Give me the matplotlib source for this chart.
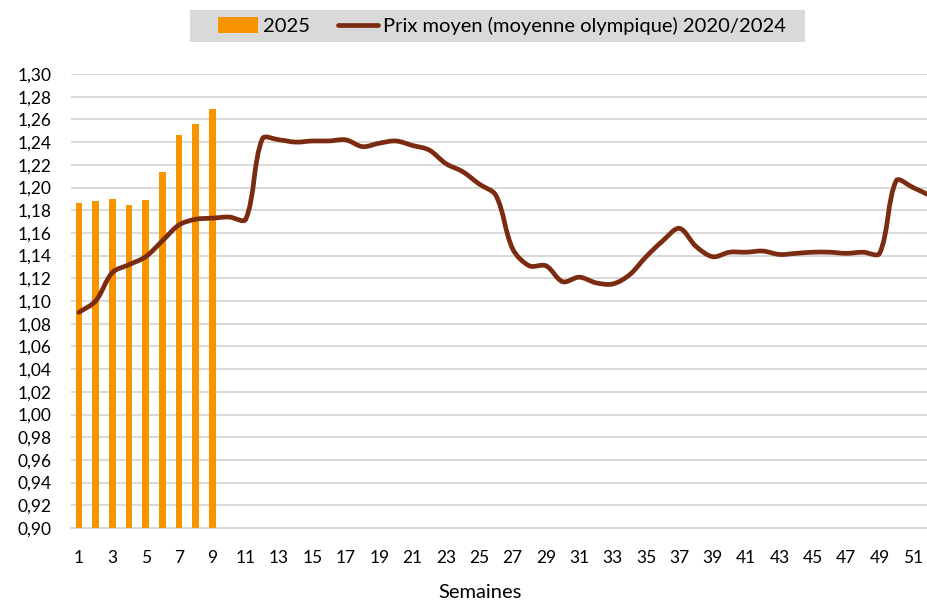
import matplotlib
matplotlib.use("Agg")
import matplotlib.pyplot as plt
import numpy as np
from matplotlib.path import Path
from matplotlib.patches import PathPatch, Patch, Rectangle
from matplotlib.lines import Line2D

weeks_2025 = [1, 2, 3, 4, 5, 6, 7, 8, 9]
prix_2025 = [1.186, 1.188, 1.190, 1.185, 1.189, 1.214, 1.246, 1.256, 1.269]

weeks = list(range(1, 53))
prix_moyen = [
    1.090, 1.100, 1.125, 1.132, 1.139, 1.153, 1.167, 1.172, 1.173, 1.174,
    1.172, 1.243, 1.242, 1.240, 1.241, 1.241, 1.242, 1.236, 1.239, 1.241,
    1.237, 1.233, 1.221, 1.214, 1.203, 1.193, 1.146, 1.131, 1.131, 1.117,
    1.121, 1.116, 1.115, 1.123, 1.139, 1.153, 1.164, 1.148, 1.139, 1.143,
    1.143, 1.144, 1.141, 1.142, 1.143, 1.143, 1.142, 1.143, 1.142, 1.206,
    1.200, 1.193,
]

y_ticks = [round(0.90 + 0.02 * i, 2) for i in range(21)]
x_ticks = list(range(1, 53, 2))

ORANGE = "#F79400"
BROWN = "#7B2B10"
GRID = "#D9D9D9"
FONT = ["Lato", "DejaVu Sans"]


def smooth_path(x, y, sx, sy, t=1.0 / 3.0):
    # Excel style smoothed line, tangents weighted by segment length on screen
    pts = np.column_stack([x, y]).astype(float)
    scr = pts * [sx, sy]
    n = len(pts)
    verts = [pts[0]]
    codes = [Path.MOVETO]
    for i in range(n - 1):
        i0, i3 = max(i - 1, 0), min(i + 2, n - 1)
        p0, p1, p2, p3 = pts[i0], pts[i], pts[i + 1], pts[i3]
        d01 = np.hypot(*(scr[i] - scr[i0]))
        d12 = np.hypot(*(scr[i + 1] - scr[i]))
        d23 = np.hypot(*(scr[i3] - scr[i + 1]))
        f1 = d12 / (d01 + d12) if d01 + d12 > 0 else 0
        f2 = d12 / (d12 + d23) if d12 + d23 > 0 else 0
        c1 = p1 + (p2 - p0) * t * f1
        c2 = p2 - (p3 - p1) * t * f2
        verts += [c1, c2, p2]
        codes += [Path.CURVE4] * 3
    return Path(verts, codes)


def main():
    plt.rcParams["font.family"] = FONT
    fig = plt.figure(figsize=(9.28, 6.01), dpi=100)
    ax_w, ax_h = 867.4, 454.0
    ax = fig.add_axes([70.6 / 928, 1 - 528 / 601, ax_w / 928, ax_h / 601])

    ax.bar(weeks_2025, prix_2025, width=0.39, color=ORANGE, zorder=2)
    sx = ax_w / 52.0
    sy = ax_h / 0.40
    ax.add_patch(PathPatch(smooth_path(weeks, prix_moyen, sx, sy),
                           facecolor="none", edgecolor=BROWN, lw=3.4,
                           capstyle="round", joinstyle="round", zorder=3))

    ax.set_xlim(0.5, 52.5)
    ax.set_ylim(0.90, 1.30)
    ax.set_yticks(y_ticks)
    ax.set_yticklabels([f"{v:.2f}".replace(".", ",") for v in y_ticks])
    ax.set_xticks(x_ticks)
    ax.set_xticklabels([str(w) for w in x_ticks])
    ax.tick_params(axis="both", length=0, labelsize=12.5, colors="#000000")
    ax.tick_params(axis="x", pad=16)
    ax.tick_params(axis="y", pad=14)
    ax.grid(axis="y", color=GRID, lw=1.4, zorder=0)
    ax.set_axisbelow(True)
    for s in ax.spines.values():
        s.set_visible(False)
    ax.axhline(0.90, color=GRID, lw=1.4, zorder=1, clip_on=False)

    fig.text(480 / 928, 1 - 593 / 601, "Semaines", ha="center", va="center",
             fontsize=14.5)

    # legend background band
    fig.patches.append(Rectangle((190 / 928, 1 - 42 / 601), 615 / 928, 32 / 601,
                                 transform=fig.transFigure, facecolor=GRID,
                                 edgecolor="none", zorder=0))
    handles = [Patch(facecolor=ORANGE, edgecolor="none"),
               Line2D([], [], color=BROWN, lw=3.4, solid_capstyle="round")]
    fig.legend(handles, ["2025", "Prix moyen (moyenne olympique) 2020/2024"],
               loc="center", bbox_to_anchor=(502 / 928, 1 - 26 / 601),
               ncol=2, frameon=False, fontsize=14.5,
               handlelength=2.0, handleheight=0.8, handletextpad=0.25,
               columnspacing=1.4, borderpad=0, borderaxespad=0)

    fig.savefig("out.png", dpi=100)


if __name__ == "__main__":
    main()
